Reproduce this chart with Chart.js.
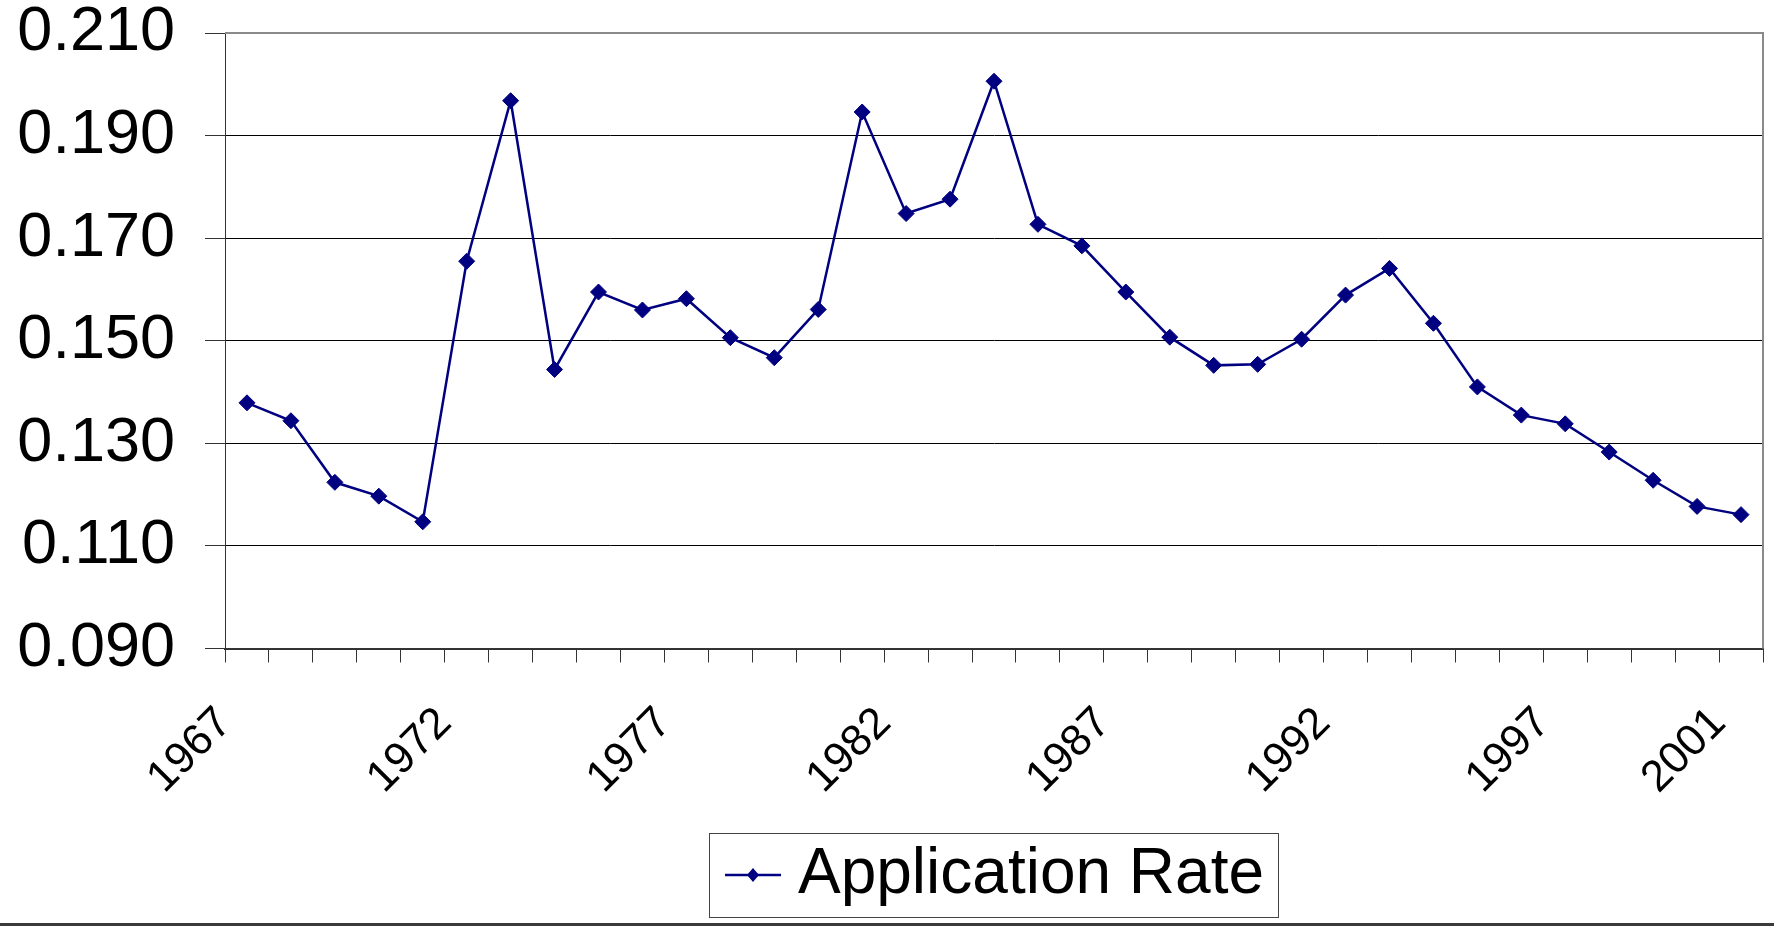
<!DOCTYPE html>
<html>
<head>
<meta charset="utf-8">
<script src="https://cdn.jsdelivr.net/npm/chart.js@4.4.1/dist/chart.umd.min.js"></script>
<style>
  html, body { margin: 0; padding: 0; background: #fff; }
  #wrap { width: 1774px; height: 923px; border-bottom: 3px solid #3a3a3a; }
  canvas { display: block; }
</style>
</head>
<body>
<div id="wrap"><canvas id="rateChart" width="1774" height="923"></canvas></div>
<script>
// categories (one per year)
const years = ['1967', '1968', '1969', '1970', '1971', '1972', '1973', '1974', '1975', '1976',
    '1977', '1978', '1979', '1980', '1981', '1982', '1983', '1984', '1985', '1986',
    '1987', '1988', '1989', '1990', '1991', '1992', '1993', '1994', '1995', '1996',
    '1997', '1998', '1999', '2000', '2001'];

// application rate
const rates = [0.1379, 0.1344, 0.1224, 0.1197, 0.1147, 0.1655, 0.1968, 0.1444, 0.1595, 0.1560,
    0.1582, 0.1506, 0.1467, 0.1561, 0.1946, 0.1748, 0.1776, 0.2006, 0.1727, 0.1685,
    0.1595, 0.1507, 0.1452, 0.1454, 0.1503, 0.1589, 0.1641, 0.1534, 0.1410, 0.1355,
    0.1338, 0.1283, 0.1228, 0.1177, 0.1161];

// x labels that are actually printed
const shownYears = ['1967', '1972', '1977', '1982', '1987', '1992', '1997', '2001'];

// y axis ticks
const yMin = 0.090;
const yMax = 0.210;
const yStep = 0.020;

const navy = '#000080';

Chart.defaults.font.family = '"Liberation Sans", Arial, sans-serif';
Chart.defaults.color = '#000';

// legend marker: short line with a diamond on it
function legendMarker() {
    const c = document.createElement('canvas');
    c.width = 72;
    c.height = 20;
    const g = c.getContext('2d');
    g.strokeStyle = navy;
    g.lineWidth = 2.5;
    g.beginPath();
    g.moveTo(16, 10);
    g.lineTo(72, 10);
    g.stroke();
    g.fillStyle = navy;
    g.beginPath();
    g.moveTo(44, 3);
    g.lineTo(50, 10);
    g.lineTo(44, 17);
    g.lineTo(38, 10);
    g.closePath();
    g.fill();
    return c;
}
const marker = legendMarker();

// gray frame on top/right of the plot area + box round the legend
const framePlugin = {
    id: 'frame',
    beforeDatasetsDraw(chart) {
        const {ctx, chartArea} = chart;
        ctx.save();
        ctx.strokeStyle = '#8a8a8a';
        ctx.lineWidth = 2;
        ctx.beginPath();
        ctx.moveTo(chartArea.left, chartArea.top);
        ctx.lineTo(chartArea.right, chartArea.top);
        ctx.lineTo(chartArea.right, chartArea.bottom);
        ctx.stroke();
        ctx.restore();
    },
    afterDraw(chart) {
        const hb = chart.legend && chart.legend.legendHitBoxes[0];
        if (!hb) return;
        const ctx = chart.ctx;
        ctx.save();
        ctx.strokeStyle = '#444';
        ctx.lineWidth = 1;
        const l = Math.round(hb.left - 15) + 0.5;
        const r = Math.round(hb.left + hb.width + 14) + 0.5;
        const t = Math.round(hb.top - 10) + 0.5;
        const b = Math.round(hb.top + hb.height + 10) + 0.5;
        ctx.strokeRect(l, t, r - l, b - t);
        ctx.restore();
    }
};

const ctx = document.getElementById('rateChart').getContext('2d');
new Chart(ctx, {
    type: 'line',
    data: {
        labels: years,
        datasets: [{
            label: 'Application Rate',
            data: rates,
            borderColor: navy,
            backgroundColor: navy,
            borderWidth: 2.5,
            tension: 0,
            fill: false,
            pointStyle: 'rectRot',
            pointRadius: 8,
            pointBorderWidth: 1,
            pointBackgroundColor: navy,
            pointBorderColor: navy
        }]
    },
    options: {
        responsive: false,
        animation: false,
        devicePixelRatio: 1,
        layout: {
            padding: {left: 17, right: 11, top: 33, bottom: 6}
        },
        scales: {
            x: {
                type: 'category',
                offset: true,
                grid: {
                    display: true,
                    drawOnChartArea: false,
                    offset: true,
                    tickLength: 14,
                    tickColor: '#333',
                    color: '#333'
                },
                border: {color: '#333', width: 2},
                ticks: {
                    autoSkip: false,
                    minRotation: 45,
                    maxRotation: 45,
                    padding: 35,
                    labelOffset: -22,
                    font: {size: 44},
                    color: '#000',
                    callback: function (value) {
                        const lbl = this.getLabelForValue(value);
                        return shownYears.includes(lbl) ? lbl : '';
                    }
                },
                afterFit: (scale) => {
                    scale.height = 184.5;
                    scale.paddingLeft = 0;
                    scale.paddingRight = 0;
                }
            },
            y: {
                min: yMin,
                max: yMax,
                grid: {
                    color: (c) => (c.tick && c.tick.value > yMax - yStep / 2) ? '#8a8a8a' : '#000',
                    tickColor: '#333',
                    tickLength: 20
                },
                border: {color: '#333', width: 1},
                ticks: {
                    stepSize: yStep,
                    padding: 30,
                    font: {size: 63, lineHeight: 1},
                    color: '#000',
                    callback: (v) => Number(v).toFixed(3)
                },
                afterFit: (scale) => {
                    scale.width = 208;
                    scale.paddingTop = 0;
                    scale.paddingBottom = 0;
                }
            }
        },
        plugins: {
            legend: {
                position: 'bottom',
                fullSize: false,
                labels: {
                    usePointStyle: true,
                    pointStyleWidth: 42,
                    boxHeight: 20,
                    color: '#000',
                    font: {size: 64},
                    generateLabels: (chart) => [{
                        text: chart.data.datasets[0].label,
                        pointStyle: marker,
                        fillStyle: navy,
                        strokeStyle: navy,
                        lineWidth: 0,
                        hidden: false,
                        datasetIndex: 0
                    }]
                }
            },
            tooltip: {enabled: false}
        }
    },
    plugins: [framePlugin]
});
</script>
</body>
</html>
